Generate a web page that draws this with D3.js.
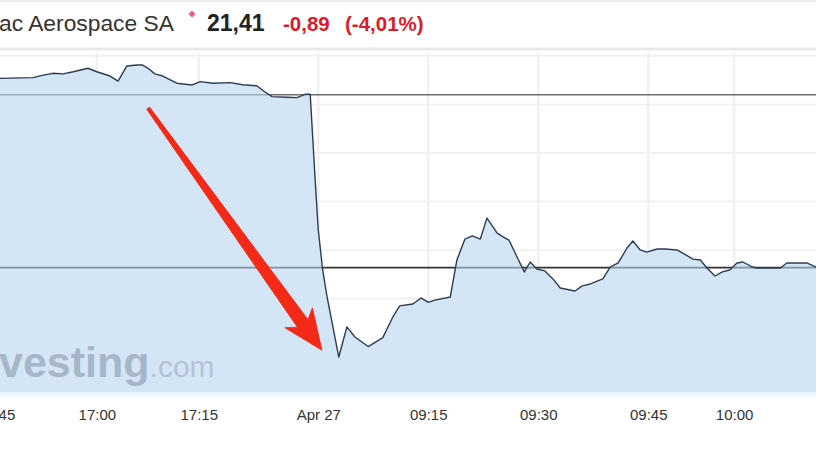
<!DOCTYPE html>
<html><head><meta charset="utf-8">
<script src="https://cdn.jsdelivr.net/npm/d3@7"></script>
<style>
body{margin:0;background:#fff;overflow:hidden}
svg{display:block;font-family:"Liberation Sans",Arial,sans-serif}
</style>
</head><body>
<svg id="c" width="816" height="459"></svg>
<script>
// ---- data (x in chart bar units, price in EUR) ----
const barPos = [0,4.5,5.9,7.2,8.6,10.0,12.0,13.2,15.0,16.1,17.3,18.7,19.4,20.2,21.1,22.2,24.1,26.2,27.3,29.0,31.4,33.1,35.0,36.1,37.1,39.1,40.5,41.6,42.3,
  43.0,43.4,44.0,44.6,46.2,47.3,48.4,50.2,52.2,53.5,54.5,56.3,57.4,58.4,59.3,61.4,62.3,63.4,64.4,65.5,66.4,67.8,68.6,69.4,70.5,71.5,72.3,73.2,74.3,75.4,76.4,
  78.4,79.4,80.5,82.2,83.2,84.3,85.5,86.3,87.3,88.2,89.6,90.7,92.3,93.1,94.5,95.5,96.4,97.5,98.5,99.5,100.5,101.3,102.6,103.2,105.4,106.4,107.3,110.0,111.3];
const prices = [22.384,22.388,22.401,22.410,22.407,22.418,22.436,22.418,22.396,22.370,22.448,22.453,22.453,22.436,22.407,22.396,22.359,22.350,22.367,22.359,22.362,22.351,22.346,22.315,22.290,22.287,22.285,22.302,22.302,
  21.846,21.604,21.398,21.259,20.950,21.105,21.053,21.004,21.050,21.151,21.213,21.223,21.254,21.231,21.243,21.259,21.449,21.557,21.573,21.557,21.665,21.588,21.568,21.552,21.465,21.388,21.439,21.403,21.393,21.352,21.305,
  21.290,21.316,21.326,21.352,21.413,21.434,21.511,21.547,21.501,21.490,21.506,21.506,21.501,21.485,21.454,21.449,21.408,21.367,21.388,21.398,21.434,21.439,21.413,21.408,21.408,21.408,21.434,21.434,21.413];
const tickBars = [-0.3,13.2,27.1,43.4,58.4,73.4,88.4,100.1];
const tickLabels = ["45","17:00","17:15","Apr 27","09:15","09:30","09:45","10:00"];
const gridPrices = [22.50,22.25,22.00,21.75,21.50,21.25,21.00];
const prevClose = 22.30;
const lastPrice = 21.41;
const title = "ac Aerospace SA";
const priceText = "21,41";
const changeText = "-0,89";
const changePctText = "(-4,01%)";
// arrow annotation in data units: [bar, price]
const arrowFrom = [20.2, 22.231];
const arrowTo = [43.9, 20.985];

(function(){
const W = 816, H = 459;
const plotTop = 50, plotBottom = 392;
const svg = d3.select("#c");

const x = d3.scaleLinear().domain([0, 111.27]).range([0, W]);
const y = d3.scaleLinear().domain([20.77, 22.53]).range([plotBottom, plotTop]);
const data = barPos.map((b,i)=>({b, p: prices[i]}));

// header
svg.append("rect").attr("x",0).attr("y",0).attr("width",W).attr("height",H).attr("fill","#fff");
svg.append("line").attr("x1",0).attr("x2",W).attr("y1",1).attr("y2",1).attr("stroke","#ebebeb").attr("stroke-width",2);
svg.append("line").attr("x1",0).attr("x2",W).attr("y1",49).attr("y2",49).attr("stroke","#e9e9e9").attr("stroke-width",3);

const head = svg.append("g");
head.append("text").attr("x",-1).attr("y",31).attr("font-size",22.8).attr("fill","#333").text(title);
head.append("path").attr("d",d3.symbol(d3.symbolSquare, 24)()).attr("transform","translate(192,14) rotate(45)").attr("fill","#ef5a86");
head.append("text").attr("x",207).attr("y",31).attr("font-size",23).attr("font-weight","bold").attr("fill","#222").text(priceText);
head.append("text").attr("x",283).attr("y",31).attr("font-size",20.5).attr("font-weight","bold").attr("fill","#dc1a2a").text(changeText);
head.append("text").attr("x",345).attr("y",31).attr("font-size",20.5).attr("font-weight","bold").attr("fill","#dc1a2a").text(changePctText);

// grid
const grid = svg.append("g");
grid.selectAll("line.h").data(gridPrices).join("line")
  .attr("x1",0).attr("x2",W).attr("y1",d=>y(d)).attr("y2",d=>y(d))
  .attr("stroke","#f1f1f1").attr("stroke-width",2);
grid.selectAll("line.v").data(tickBars.slice(1)).join("line")
  .attr("x1",d=>x(d)).attr("x2",d=>x(d)).attr("y1",plotTop+3).attr("y2",plotBottom)
  .attr("stroke","#f1f1f1").attr("stroke-width",2.5);

// area (white base hides grid under the fill)
const area = d3.area().x(d=>x(d.b)).y0(plotBottom).y1(d=>y(d.p));
svg.append("path").datum(data).attr("d",area).attr("fill","#fff");

// reference lines
svg.append("line").attr("x1",0).attr("x2",W).attr("y1",y(prevClose)).attr("y2",y(prevClose))
  .attr("stroke","#6e6e6e").attr("stroke-width",1.5);
svg.append("line").attr("x1",0).attr("x2",W).attr("y1",y(lastPrice)).attr("y2",y(lastPrice))
  .attr("stroke","#333").attr("stroke-width",1.6);

svg.append("path").datum(data).attr("d",area).attr("fill","rgba(184,211,240,0.6)");

// fade band below plot
const defs = svg.append("defs");
const lg = defs.append("linearGradient").attr("id","fade").attr("x1",0).attr("x2",0).attr("y1",0).attr("y2",1);
lg.append("stop").attr("offset","0%").attr("stop-color","#e6f0fa");
lg.append("stop").attr("offset","100%").attr("stop-color","#ffffff");
svg.append("rect").attr("x",0).attr("y",plotBottom).attr("width",W).attr("height",8).attr("fill","url(#fade)");

// watermark
const wm = svg.append("text").attr("x",-1).attr("y",377);
wm.append("tspan").attr("font-size",43).attr("font-weight","bold").attr("fill","#a5b7c9").text("vesting");
wm.append("tspan").attr("font-size",30).attr("fill","#b2c3d4").text(".com");

// line
const line = d3.line().x(d=>x(d.b)).y(d=>y(d.p));
svg.append("path").datum(data).attr("d",line).attr("fill","none")
  .attr("stroke","#2c3d52").attr("stroke-width",1.4).attr("stroke-linejoin","round");

// x axis labels
const axis = d3.axisBottom(x).tickValues(tickBars).tickFormat((d,i)=>tickLabels[i]).tickSize(0).tickPadding(0);
const ag = svg.append("g").attr("transform","translate(0,409)").call(axis);
ag.select(".domain").remove();
ag.selectAll("text").attr("font-size",15).attr("fill","#333").attr("font-family","'Liberation Sans',Arial,sans-serif").attr("dy","0.71em");
ag.selectAll(".tick").filter((d,i)=>i===0).select("text").attr("text-anchor","end").attr("dx",17);

// arrow annotation
const x0 = x(arrowFrom[0]), y0 = y(arrowFrom[1]);
const x1 = x(arrowTo[0]), y1 = y(arrowTo[1]);
const dx = x1-x0, dy = y1-y0, L = Math.hypot(dx,dy);
const ux = dx/L, uy = dy/L, nx = -uy, ny = ux;
const headLen = 40, headHalf = 17, shaftEnd = 6.5, shaftStart = 1.8;
const bx = x1 - ux*headLen, by = y1 - uy*headLen;
const pts = [
  [x0 + nx*shaftStart, y0 + ny*shaftStart],
  [bx + nx*shaftEnd + ux*7, by + ny*shaftEnd + uy*7],
  [bx + nx*headHalf, by + ny*headHalf],
  [x1, y1],
  [bx - nx*headHalf, by - ny*headHalf],
  [bx - nx*shaftEnd + ux*7, by - ny*shaftEnd + uy*7],
  [x0 - nx*shaftStart, y0 - ny*shaftStart]
];
svg.append("path").attr("d", d3.line()(pts) + "Z").attr("fill","#f22a17").attr("stroke","#f22a17").attr("stroke-width",0.8).attr("stroke-linejoin","round");
})();
</script>
</body></html>
